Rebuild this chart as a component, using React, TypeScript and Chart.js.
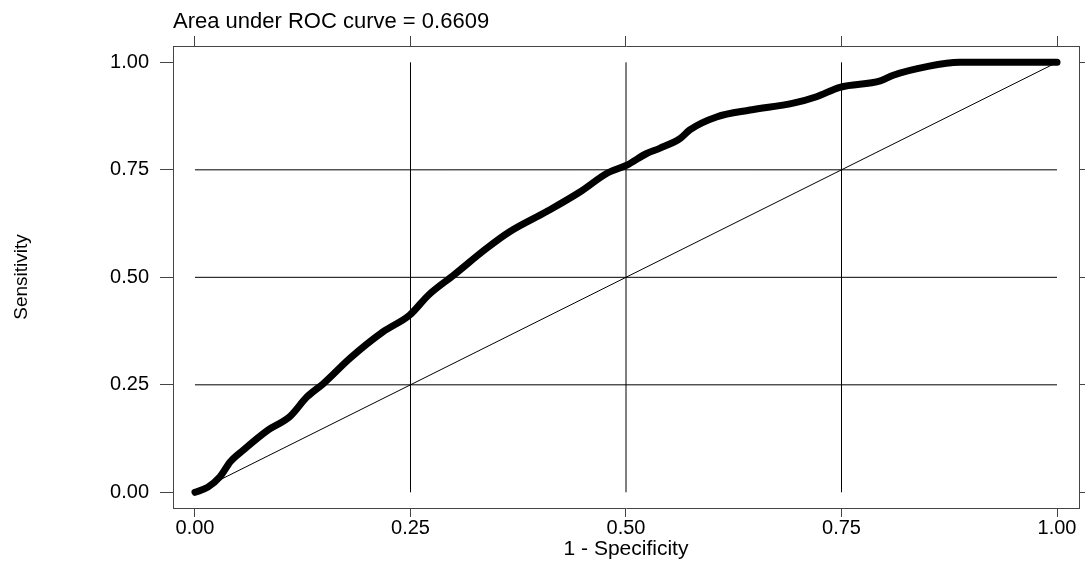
import React, { useEffect, useRef } from "react";
import { Chart, registerables } from "chart.js";

Chart.register(...registerables);

// ROC curve points (1 - specificity, sensitivity)
const rocFpr = [0, 0.015, 0.029, 0.041, 0.056, 0.085, 0.110, 0.130, 0.149, 0.180, 0.218, 0.249, 0.271, 0.300, 0.338, 0.365, 0.408, 0.447, 0.478, 0.501, 0.524, 0.539, 0.563, 0.574, 0.605, 0.644, 0.694, 0.721, 0.748, 0.795, 0.810, 0.849, 0.887, 1.0];
const rocTpr = [0, 0.012, 0.036, 0.071, 0.098, 0.145, 0.176, 0.222, 0.253, 0.312, 0.373, 0.412, 0.459, 0.505, 0.567, 0.606, 0.653, 0.699, 0.742, 0.761, 0.788, 0.800, 0.823, 0.843, 0.873, 0.889, 0.905, 0.920, 0.942, 0.957, 0.970, 0.990, 1.000, 1.0];

const tickValues = [0, 0.25, 0.5, 0.75, 1];
const gridValues = [0.25, 0.5, 0.75];
const referenceLine = [0, 1];

const headerText = "Area under ROC curve = 0.6609";
const xTitle = "1 - Specificity";
const yTitle = "Sensitivity";

const FONT = "'Liberation Sans', Arial, Helvetica, sans-serif";

export default function App() {
  const ref = useRef<HTMLCanvasElement | null>(null);

  useEffect(() => {
    if (!ref.current) return;
    const setTicks = (s: any) => {
      s.ticks = tickValues.map((v) => ({ value: v }));
    };
    const fmt = (v: any) => Number(v).toFixed(2);

    const gridSets: any[] = [];
    gridValues.forEach((g) => {
      gridSets.push({
        data: [{ x: g, y: 0 }, { x: g, y: 1 }],
        borderColor: "#000",
        borderWidth: 1,
        pointRadius: 0,
        showLine: true,
        order: 3,
      });
      gridSets.push({
        data: [{ x: 0, y: g }, { x: 1, y: g }],
        borderColor: "#000",
        borderWidth: 1,
        pointRadius: 0,
        showLine: true,
        order: 3,
      });
    });

    const xMin = -0.0255, xMax = 1.0255;
    const yMin = -0.0365, yMax = 1.038;

    const chart = new Chart(ref.current, {
      type: "scatter",
      data: {
        datasets: [
          {
            data: rocFpr.map((x, i) => ({ x, y: rocTpr[i] })),
            borderColor: "#000",
            backgroundColor: "#000",
            borderWidth: 7,
            borderCapStyle: "round",
            borderJoinStyle: "round",
            cubicInterpolationMode: "monotone",
            pointRadius: 0,
            showLine: true,
            order: 0,
          },
          {
            data: referenceLine.map((v) => ({ x: v, y: v })),
            borderColor: "#000",
            borderWidth: 1,
            pointRadius: 0,
            showLine: true,
            order: 2,
          },
          ...gridSets,
        ],
      },
      options: {
        animation: false,
        responsive: false,
        devicePixelRatio: 1,
        layout: { padding: 0 },
        plugins: { legend: { display: false }, tooltip: { enabled: false }, title: { display: false } },
        scales: {
          x: {
            type: "linear",
            position: "bottom",
            min: xMin,
            max: xMax,
            afterBuildTicks: setTicks,
            afterFit: (s: any) => { s.height = 55; },
            grid: { display: true, drawOnChartArea: false, drawTicks: true, tickLength: 9, color: "#444", lineWidth: 1 },
            border: { display: true, color: "#444", width: 1 },
            ticks: { autoSkip: false, maxRotation: 0, padding: 1, color: "#000", font: { family: FONT, size: 20, lineHeight: 1 }, callback: fmt },
            title: { display: true, text: xTitle, color: "#000", font: { family: FONT, size: 21 }, padding: { top: 0, bottom: 1.5 } },
          },
          x2: {
            type: "linear",
            axis: "x",
            position: "top",
            min: xMin,
            max: xMax,
            afterBuildTicks: setTicks,
            afterFit: (s: any) => { s.height = 46; },
            grid: { display: true, drawOnChartArea: false, drawTicks: true, tickLength: 10, color: "#444", lineWidth: 1 },
            border: { display: true, color: "#444", width: 1 },
            ticks: { display: false },
            title: { display: true, text: headerText, align: "start", color: "#000", font: { family: FONT, size: 22 }, padding: { top: 9, bottom: 0 } },
          },
          y: {
            type: "linear",
            position: "left",
            min: yMin,
            max: yMax,
            afterBuildTicks: setTicks,
            afterFit: (s: any) => { s.width = 173; },
            grid: { display: true, drawOnChartArea: false, drawTicks: true, tickLength: 13, color: "#444", lineWidth: 1 },
            border: { display: true, color: "#444", width: 1 },
            ticks: { autoSkip: false, padding: 11, color: "#000", font: { family: FONT, size: 20, lineHeight: 1 }, callback: fmt },
            title: { display: true, text: yTitle, color: "#000", font: { family: FONT, size: 19 }, padding: { top: 10.5, bottom: 0 } },
          },
          y2: {
            type: "linear",
            axis: "y",
            position: "right",
            min: yMin,
            max: yMax,
            afterBuildTicks: setTicks,
            afterFit: (s: any) => { s.width = 6; },
            grid: { display: true, drawOnChartArea: false, drawTicks: true, tickLength: 10, color: "#444", lineWidth: 1 },
            border: { display: true, color: "#444", width: 1 },
            ticks: { display: false },
          },
        },
      } as any,
    });
    return () => chart.destroy();
  }, []);

  return (
    <div style={{ position: "absolute", left: 0, top: 0, width: 1085, height: 563, background: "#fff" }}>
      <canvas ref={ref} width={1085} height={563} style={{ display: "block", width: 1085, height: 563 }} />
    </div>
  );
}
